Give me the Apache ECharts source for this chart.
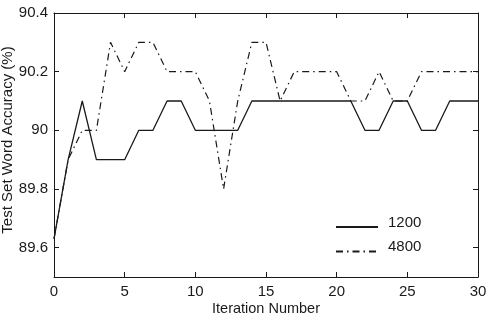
<!DOCTYPE html>
<html>
<head>
<meta charset="utf-8">
<script src="https://cdn.jsdelivr.net/npm/echarts@6/dist/echarts.min.js"></script>
<style>
  html, body { margin: 0; padding: 0; background: #fff; }
  #chart { width: 486px; height: 317px; }
</style>
</head>
<body>
<div id="chart"></div>
<script>
// iterations 0..30
const iterations = [0, 1, 2, 3, 4, 5, 6, 7, 8, 9, 10, 11, 12, 13, 14, 15,
  16, 17, 18, 19, 20, 21, 22, 23, 24, 25, 26, 27, 28, 29, 30];
const acc1200 = [89.63, 89.9, 90.1, 89.9, 89.9, 89.9, 90.0, 90.0, 90.1, 90.1, 90.0,
  90.0, 90.0, 90.0, 90.1, 90.1, 90.1, 90.1, 90.1, 90.1, 90.1, 90.1, 90.0, 90.0,
  90.1, 90.1, 90.0, 90.0, 90.1, 90.1, 90.1];
const acc4800 = [89.63, 89.9, 90.0, 90.0, 90.3, 90.2, 90.3, 90.3, 90.2, 90.2, 90.2,
  90.1, 89.8, 90.1, 90.3, 90.3, 90.1, 90.2, 90.2, 90.2, 90.2, 90.1, 90.1, 90.2,
  90.1, 90.1, 90.2, 90.2, 90.2, 90.2, 90.2];
const seriesNames = ['1200', '4800'];

const fontFam = '"Liberation Sans", Arial, sans-serif';
const ink = '#1a1a1a';

const chart = echarts.init(document.getElementById('chart'));

function xAx(pos, showLabels) {
  return {
    type: 'value', position: pos, min: 0, max: 30, interval: 5,
    axisLine: { show: true, onZero: false, lineStyle: { color: ink, width: 1 } },
    axisTick: { show: true, inside: true, length: 5, lineStyle: { color: ink } },
    axisLabel: { show: showLabels, color: ink, fontSize: 15, fontFamily: fontFam, margin: 7 },
    splitLine: { show: false }
  };
}
function yAx(pos, showLabels) {
  return {
    type: 'value', position: pos, min: 89.5, max: 90.4,
    minInterval: 0.2, maxInterval: 0.2, splitNumber: 5,
    axisLine: { show: true, onZero: false, lineStyle: { color: ink, width: 1 } },
    axisTick: { show: true, inside: true, length: 5, lineStyle: { color: ink } },
    axisLabel: { show: showLabels, showMinLabel: false, color: ink, fontSize: 15, fontFamily: fontFam, margin: 6 },
    splitLine: { show: false }
  };
}

const xBottom = xAx('bottom', true);
xBottom.name = 'Iteration Number';
xBottom.nameLocation = 'middle';
xBottom.nameGap = 24;
xBottom.nameMoveOverlap = false;
xBottom.nameTextStyle = { color: ink, fontSize: 14.5, fontFamily: fontFam };

const yLeft = yAx('left', true);
yLeft.name = 'Test Set Word Accuracy (%)';
yLeft.nameLocation = 'middle';
yLeft.nameGap = 39;
yLeft.nameMoveOverlap = false;
yLeft.nameTextStyle = { color: ink, fontSize: 15, fontFamily: fontFam, padding: [0, 0, 0, 10] };

const option = {
  backgroundColor: '#fff',
  animation: false,
  grid: { left: 54, right: 8, top: 13, bottom: 40, containLabel: false, outerBoundsMode: 'none' },
  legend: {
    orient: 'vertical',
    left: 330, top: 210,
    itemWidth: 42, itemHeight: 14, itemGap: 7,
    data: seriesNames,
    itemStyle: { opacity: 0 },
    formatter: '{t|{name}}',
    textStyle: {
      color: ink, fontSize: 15, fontFamily: fontFam,
      rich: { t: { color: ink, fontSize: 15, fontFamily: fontFam, padding: [0, 0, 9, 5] } }
    }
  },
  xAxis: [xBottom, xAx('top', false)],
  yAxis: [yLeft, yAx('right', false)],
  series: [
    {
      name: seriesNames[0], type: 'line', symbol: 'none',
      data: iterations.map((x, i) => [x, acc1200[i]]),
      lineStyle: { color: ink, width: 1.3, type: 'solid' },
      itemStyle: { color: ink }
    },
    {
      name: seriesNames[1], type: 'line', symbol: 'none',
      data: iterations.map((x, i) => [x, acc4800[i]]),
      lineStyle: { color: ink, width: 1.2, type: [7, 4, 1.5, 4] },
      itemStyle: { color: ink }
    }
  ]
};

chart.setOption(option);
</script>
</body>
</html>
